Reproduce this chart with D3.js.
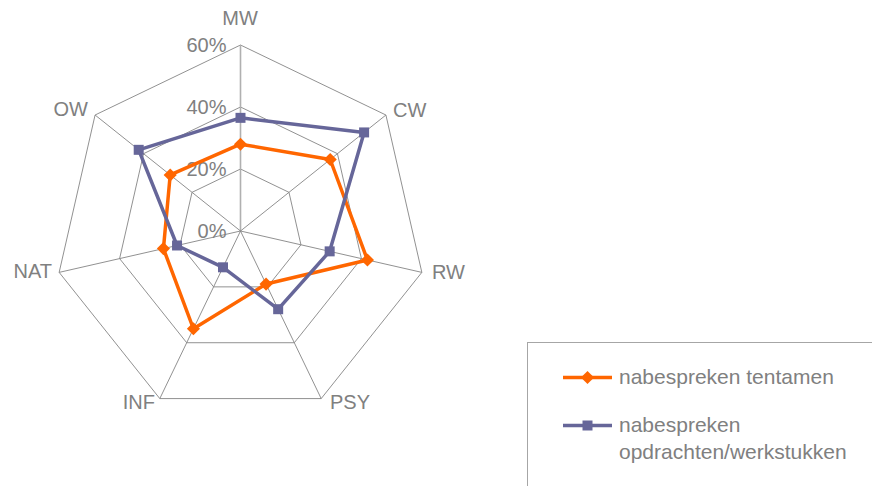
<!DOCTYPE html>
<html>
<head>
<meta charset="utf-8">
<script src="https://cdn.jsdelivr.net/npm/d3@7"></script>
<style>
  html, body { margin: 0; padding: 0; background: #fff; }
  svg { display: block; font-family: "Liberation Sans", Arial, sans-serif; }
</style>
</head>
<body>
<svg id="chart" width="872" height="486"></svg>
<script>
// Axes of the radar, clockwise from the top
const categories = ["MW", "CW", "RW", "PSY", "INF", "NAT", "OW"];
// Share of respondents per department (%)
const tentamen = [28, 37, 42, 19, 35, 25.5, 29];
const opdrachten = [36.5, 51, 29.5, 28, 13, 21, 42];
const seriesNames = ["nabespreken tentamen", "nabespreken opdrachten/werkstukken"];
const ticks = [0, 20, 40, 60];

const svg = d3.select("#chart");
const cx = 240.5, cy = 231, R = 186;
const n = categories.length;

const r = d3.scaleLinear().domain([0, 60]).range([0, R]);
const angle = d3.scaleLinear().domain([0, n]).range([0, 2 * Math.PI]);
const pt = (i, v) => {
  const a = angle(i);
  return [cx + r(v) * Math.sin(a), cy - r(v) * Math.cos(a)];
};

// Grid rings
const g = svg.append("g");
ticks.filter(t => t > 0).forEach(t => {
  g.append("polygon")
    .attr("points", categories.map((c, i) => pt(i, t).join(",")).join(" "))
    .attr("fill", "none")
    .attr("stroke", "#858585")
    .attr("stroke-width", 0.9);
});

// Spokes
categories.forEach((c, i) => {
  const [x, y] = pt(i, 60);
  g.append("line")
    .attr("x1", cx).attr("y1", cy).attr("x2", x).attr("y2", y)
    .attr("stroke", i === 0 ? "#b0b0b0" : "#858585")
    .attr("stroke-width", i === 0 ? 1.6 : 0.9);
});

// Value labels along the vertical axis
ticks.forEach(t => {
  svg.append("text")
    .attr("x", cx - 14)
    .attr("y", cy - r(t) + 6.5)
    .attr("text-anchor", "end")
    .attr("font-size", 20)
    .attr("fill", "#808080")
    .text(t + "%");
});

// Category labels
const labelPos = {
  MW: [240, 25, "middle"],
  CW: [393, 117, "start"],
  RW: [432, 279, "start"],
  PSY: [330, 409, "start"],
  INF: [155, 409, "end"],
  NAT: [52, 278, "end"],
  OW: [88, 116, "end"]
};
categories.forEach(c => {
  const [x, y, anchor] = labelPos[c];
  svg.append("text")
    .attr("x", x).attr("y", y)
    .attr("text-anchor", anchor)
    .attr("font-size", 20)
    .attr("fill", "#808080")
    .text(c);
});

const line = d3.lineRadial()
  .angle((d, i) => angle(i))
  .radius(d => r(d))
  .curve(d3.curveLinearClosed);

const series = [
  { values: tentamen, color: "#FF6600", marker: "diamond" },
  { values: opdrachten, color: "#666699", marker: "square" }
];

const diamond = d3.symbol().type(d3.symbolDiamond2).size(110);
const square = d3.symbol().type(d3.symbolSquare).size(100);

series.forEach(s => {
  const sg = svg.append("g");
  sg.append("path")
    .attr("transform", `translate(${cx},${cy})`)
    .attr("d", line(s.values))
    .attr("fill", "none")
    .attr("stroke", s.color)
    .attr("stroke-width", 3.5)
    .attr("stroke-linejoin", "round");
  s.values.forEach((v, i) => {
    const [x, y] = pt(i, v);
    sg.append("path")
      .attr("transform", `translate(${x},${y})`)
      .attr("d", s.marker === "diamond" ? diamond() : square())
      .attr("fill", s.color);
  });
});

// Legend
const lg = svg.append("g");
lg.append("rect")
  .attr("x", 527.5).attr("y", 342.5)
  .attr("width", 360).attr("height", 160)
  .attr("fill", "#fff")
  .attr("stroke", "#a6a6a6")
  .attr("stroke-width", 1);

const legendY = [377.5, 425.5];
series.forEach((s, k) => {
  const y = legendY[k];
  lg.append("line")
    .attr("x1", 563).attr("x2", 612).attr("y1", y).attr("y2", y)
    .attr("stroke", s.color).attr("stroke-width", 3.5);
  lg.append("path")
    .attr("transform", `translate(587.5,${y})`)
    .attr("d", s.marker === "diamond" ? diamond() : square())
    .attr("fill", s.color);
});
lg.append("text")
  .attr("x", 619).attr("y", 384)
  .attr("font-size", 21).attr("fill", "#808080")
  .text(seriesNames[0]);
const t2 = lg.append("text")
  .attr("x", 619).attr("y", 432)
  .attr("font-size", 21).attr("fill", "#808080");
t2.append("tspan").attr("x", 619).text("nabespreken");
t2.append("tspan").attr("x", 619).attr("dy", 26.5).text("opdrachten/werkstukken");
</script>
</body>
</html>
